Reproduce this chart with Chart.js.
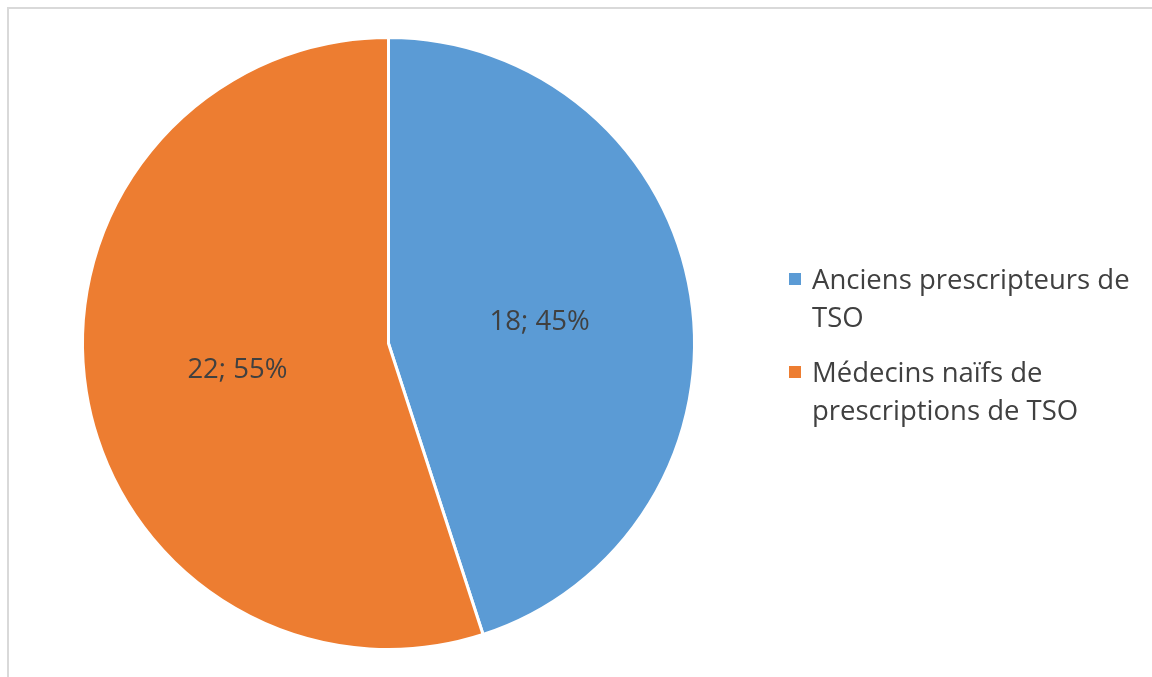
<!DOCTYPE html>
<html lang="fr">
<head>
<meta charset="UTF-8">
<title>Prescripteurs de TSO</title>
<script src="https://cdn.jsdelivr.net/npm/chart.js"></script>
<style>
    * { margin: 0; padding: 0; box-sizing: border-box; }
    body { width: 1152px; height: 677px; background: #fff; overflow: hidden; position: relative;
           font-family: 'Open Sans', 'Noto Sans', sans-serif; color: #404040; }
    .frame { position: absolute; left: 7px; top: 7px; width: 1160px; height: 690px;
             border: 2px solid #d9d9d9; }
    .chart-box { position: absolute; left: 0; top: 0; width: 1152px; height: 677px; }
    .legend { position: absolute; left: 789px; top: 260px; width: 360px; }
    .legend-item { position: relative; padding-left: 23px; font-size: 27.5px; line-height: 38px; margin-bottom: 17px; white-space: nowrap; }
    .legend-item .sw { position: absolute; left: 0; top: 13px; width: 12px; height: 12px; }
</style>
</head>
<body>
<div class="frame"></div>
<div class="chart-box"><canvas id="pie"></canvas></div>
<div class="legend" id="legend"></div>

<script>
    const categories = ['Anciens prescripteurs de TSO', 'Médecins naïfs de prescriptions de TSO'];
    const legendLines = [['Anciens prescripteurs de', 'TSO'], ['Médecins naïfs de', 'prescriptions de TSO']];
    const counts = [18, 22];
    const percents = [45, 55];
    const colors = ['#5B9BD5', '#ED7D31'];

    // legend as html so it wraps like the original
    const legend = document.getElementById('legend');
    categories.forEach((c, i) => {
        const item = document.createElement('div');
        item.className = 'legend-item';
        item.innerHTML = '<span class="sw" style="background:' + colors[i] + '"></span>' + legendLines[i].join('<br>');
        legend.appendChild(item);
    });

    // "n; p%" labels half way out on each slice
    const sliceLabels = {
        id: 'sliceLabels',
        afterDatasetsDraw(chart) {
            const ctx = chart.ctx;
            const meta = chart.getDatasetMeta(0);
            ctx.save();
            ctx.font = '27.5px "Open Sans", "Noto Sans", sans-serif';
            ctx.fillStyle = '#404040';
            ctx.textAlign = 'center';
            ctx.textBaseline = 'middle';
            meta.data.forEach((arc, i) => {
                const p = arc.getProps(['x', 'y', 'startAngle', 'endAngle', 'outerRadius'], true);
                const mid = (p.startAngle + p.endAngle) / 2;
                const r = p.outerRadius * 0.5;
                ctx.fillText(counts[i] + '; ' + percents[i] + '%', p.x + Math.cos(mid) * r, p.y + Math.sin(mid) * r + 3);
            });
            ctx.restore();
        }
    };

    new Chart(document.getElementById('pie'), {
        type: 'pie',
        data: {
            labels: categories,
            datasets: [{
                data: counts,
                backgroundColor: colors,
                borderColor: '#ffffff',
                borderWidth: 3
            }]
        },
        options: {
            responsive: true,
            maintainAspectRatio: false,
            animation: false,
            layout: { padding: { left: 81, right: 456, top: 36, bottom: 26 } },
            plugins: {
                legend: { display: false },
                tooltip: { enabled: false }
            }
        },
        plugins: [sliceLabels]
    });
</script>
</body>
</html>
